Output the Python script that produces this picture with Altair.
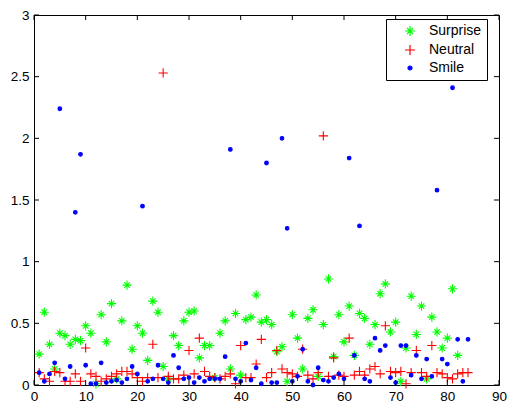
import altair as alt
import pandas as pd

series_names = ["Surprise", "Neutral", "Smile"]
series_colors = ["#00ff00", "#ff0000", "#0000ff"]

surprise = [0.25, 0.59, 0.33, 0.13, 0.42, 0.40, 0.33, 0.37, 0.36, 0.48,
            0.42, 0.01, 0.57, 0.35, 0.66, 0.05, 0.52, 0.81, 0.29, 0.48,
            0.42, 0.20, 0.68, 0.59, 0.15, 0.05, 0.40, 0.32, 0.52, 0.59,
            0.60, 0.22, 0.32, 0.32, 0.06, 0.42, 0.52, 0.13, 0.58, 0.08,
            0.53, 0.55, 0.73, 0.51, 0.53, 0.49, 0.27, 0.31, 0.03, 0.57,
            0.38, 0.13, 0.54, 0.61, 0.07, 0.49, 0.86, 0.23, 0.57, 0.35,
            0.64, 0.24, 0.58, 0.54, 0.33, 0.49, 0.74, 0.82, 0.43, 0.51,
            0.03, 0.30, 0.72, 0.41, 0.64, 0.05, 0.55, 0.43, 0.30, 0.38,
            0.78, 0.24]

neutral = [0.10, 0.05, 0.03, 0.11, 0.10, 0.03, 0.03, 0.09, 0.03, 0.30,
           0.09, 0.07, 0.03, 0.05, 0.07, 0.09, 0.11, 0.11, 0.09, 0.06,
           0.03, 0.06, 0.33, 0.06, 2.53, 0.07, 0.05, 0.05, 0.08, 0.28,
           0.09, 0.38, 0.11, 0.07, 0.06, 0.05, 0.07, 0.09, 0.01, 0.32,
           0.06, 0.06, 0.17, 0.37, 0.06, 0.10, 0.28, 0.13, 0.10, 0.09,
           0.07, 0.29, 0.08, 0.05, 0.10, 2.02, 0.07, 0.22, 0.08, 0.07,
           0.38, 0.08, 0.11, 0.08, 0.13, 0.15, 0.09, 0.48, 0.11, 0.10,
           0.11, 0.01, 0.10, 0.28, 0.10, 0.07, 0.32, 0.10, 0.09, 0.06,
           0.05, 0.09, 0.10, 0.10]

smile = [0.10, 0.03, 0.09, 0.18, 2.24, 0.05, 0.15, 1.40, 1.87, 0.16,
         0.01, 0.01, 0.18, 0.02, 0.03, 0.04, 0.02, 0.05, 0.15, 0.09,
         1.45, 0.03, 0.05, 0.16, 0.05, 0.02, 0.24, 0.14, 0.05, 0.06,
         0.02, 0.06, 0.03, 0.05, 0.05, 0.05, 0.23, 1.91, 0.05, 0.03,
         0.34, 0.04, 0.14, 0.01, 1.80, 0.02, 0.02, 2.00, 1.27, 0.03,
         0.07, 0.29, 0.03, 0.00, 0.14, 0.04, 0.03, 0.06, 0.09, 0.05,
         1.84, 0.24, 1.29, 0.05, 0.03, 0.38, 0.28, 0.32, 0.06, 0.02,
         0.32, 0.32, 0.08, 0.24, 0.05, 0.21, 0.07, 1.58, 0.21, 0.17,
         2.41, 0.37, 0.03, 0.37]

x_ticks = [0, 10, 20, 30, 40, 50, 60, 70, 80, 90]
y_ticks = [0, 0.5, 1, 1.5, 2, 2.5, 3]

rows = []
for name, vals in zip(series_names, [surprise, neutral, smile]):
    for i, v in enumerate(vals):
        rows.append({"sample": i + 1, "value": v, "series": name})
df = pd.DataFrame(rows)

W, H = 465, 370
FONT = "Liberation Sans"
xs = alt.Scale(domain=[0, 90], nice=False, zero=False)
ys = alt.Scale(domain=[0, 3], nice=False, zero=False)

x_axis = alt.Axis(values=x_ticks, ticks=False, domain=False, grid=False, title=None,
                  format="d", labelFont=FONT, labelFontSize=13.5, labelColor="black",
                  labelPadding=4, labelFlush=False)
y_axis = alt.Axis(values=y_ticks, ticks=False, domain=False, grid=False, title=None,
                  format="~g", labelFont=FONT, labelFontSize=13.5, labelColor="black",
                  labelPadding=5, labelFlush=False)

ASTER = "M-1,0L1,0M0,-1L0,1M-0.6,-0.6L0.6,0.6M-0.6,0.6L0.6,-0.6"
PLUS = "M-1,0L1,0M0,-1L0,1"
DOT = "M-0.4,0A0.4,0.4 0 1,0 0.4,0A0.4,0.4 0 1,0 -0.4,0Z"

leg = alt.Legend(title=None, orient="none", legendX=352, legendY=4,
                 fillColor="white", strokeColor="black", padding=5,
                 labelFont=FONT, labelFontSize=14, labelColor="black",
                 symbolOffset=12, labelOffset=12, rowPadding=3, symbolStrokeWidth=1.2,
                 symbolSize=100)

points = alt.Chart(df).mark_point(strokeWidth=1.1, opacity=1, size=85).encode(
    x=alt.X("sample:Q", scale=xs, axis=x_axis),
    y=alt.Y("value:Q", scale=ys, axis=y_axis),
    stroke=alt.Stroke("series:N", scale=alt.Scale(domain=series_names, range=series_colors), legend=leg),
    fill=alt.Fill("series:N", scale=alt.Scale(domain=series_names, range=["transparent", "transparent", "#0000ff"]), legend=leg),
    shape=alt.Shape("series:N", scale=alt.Scale(domain=series_names, range=[ASTER, PLUS, DOT]), legend=leg),
)

xt = pd.DataFrame({"t": x_ticks})
yt = pd.DataFrame({"t": y_ticks})

xbot = alt.Chart(xt).mark_rule(color="black", strokeWidth=1).encode(
    x=alt.X("t:Q", scale=xs, axis=x_axis), y=alt.value(H), y2=alt.value(H - 5))
xtop = alt.Chart(xt).mark_rule(color="black", strokeWidth=1).encode(
    x=alt.X("t:Q", scale=xs, axis=x_axis), y=alt.value(0), y2=alt.value(5))
yleft = alt.Chart(yt).mark_rule(color="black", strokeWidth=1).encode(
    y=alt.Y("t:Q", scale=ys, axis=y_axis), x=alt.value(0), x2=alt.value(5))
yright = alt.Chart(yt).mark_rule(color="black", strokeWidth=1).encode(
    y=alt.Y("t:Q", scale=ys, axis=y_axis), x=alt.value(W), x2=alt.value(W - 5))

chart = alt.layer(points, xbot, xtop, yleft, yright).properties(
    width=W, height=H,
    autosize=alt.AutoSizeParams(type="none"),
    padding={"left": 26, "top": 7, "right": 8, "bottom": 19},
    background="white",
).configure_view(stroke="black", strokeWidth=1)

chart.save("out.html", embed_options={"renderer": "svg", "actions": False})
